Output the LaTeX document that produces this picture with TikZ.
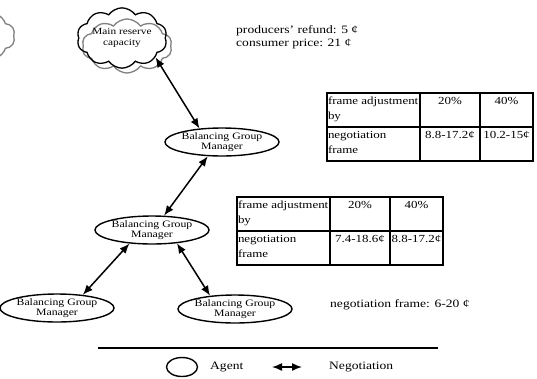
\documentclass[tikz,border=0pt]{standalone}
\usepackage{fontspec}
\setmainfont{Liberation Serif}[FakeStretch=1.2]
\usetikzlibrary{shapes.geometric, shapes.symbols, arrows.meta, positioning}
\definecolor{cloudgrey}{RGB}{128, 128, 128}
\newcommand{\lcell}[2]{\parbox[c][26pt][t]{#1}{\raggedright #2}}
\newcommand{\ccell}[2]{\parbox[c][26pt][t]{#1}{\centering #2}}

\begin{document}
\begin{tikzpicture}[x=1pt, y=-1pt,
    agent/.style={ellipse, draw, line width=1.4pt, minimum width=84pt, minimum height=28pt, inner sep=0pt, align=center, font=\fontsize{9.8}{9.8}\selectfont},
    nego/.style={{Latex[length=10pt,width=8pt]}-{Latex[length=10pt,width=8pt]}, line width=1.5pt},
    reserve/.style={cloud, cloud puffs=10, cloud puff arc=110, aspect=1.7, minimum width=90pt, minimum height=54pt, inner sep=0pt, line width=1.3pt, align=center, font=\fontsize{9.4}{11.5}\selectfont},
    tcell/.style={draw, line width=1.4pt, anchor=north west, outer sep=0pt, inner xsep=1pt, inner ysep=0pt, minimum height=34pt, font=\fontsize{10.8}{15}\selectfont},
    info/.style={anchor=west, inner sep=0pt, align=left, font=\fontsize{11.3}{13}\selectfont}]
    \useasboundingbox (0,0) rectangle (537,378);

    % reserve clouds
    \node[reserve, draw=cloudgrey] (mrcshade) at (127,46) {};
    \node[reserve, draw=cloudgrey] (edgecloud) at (-30,36) {};
    \node[reserve, draw] (mrc) at (122,38) {Main reserve\\capacity};

    % balancing group managers
    \node[agent] (bgmtop) at (222,142) {Balancing Group\\Manager};
    \node[agent] (bgmmid) at (152,230) {Balancing Group\\Manager};
    \node[agent] (bgmleft) at (57,308) {Balancing Group\\Manager};
    \node[agent] (bgmright) at (235,309) {Balancing Group\\Manager};

    % negotiations
    \draw[nego] (mrc.-30) -- (bgmtop.149);
    \draw[nego] (bgmtop.225) -- (bgmmid.50);
    \draw[nego] (bgmmid.211) -- (bgmleft.27);
    \draw[nego] (bgmmid.-28) -- (bgmright.152);

    % prices
    \node[info] (prices) at (236,37) {producers' refund: 5 ¢\\consumer price: 21 ¢};

    % upper table
    \node[tcell, minimum width=93pt] (upfa) at (327,93) {\lcell{91pt}{frame adjustment\\by}};
    \node[tcell, minimum width=60pt, right=0pt of upfa] (upfb) {\ccell{58pt}{20\%}};
    \node[tcell, minimum width=53pt, right=0pt of upfb] (upfc) {\ccell{51pt}{40\%}};
    \node[tcell, minimum width=93pt, below=0pt of upfa] (upna) {\lcell{91pt}{negotiation\\frame}};
    \node[tcell, minimum width=60pt, below=0pt of upfb] (upnb) {\ccell{58pt}{8.8-17.2¢}};
    \node[tcell, minimum width=53pt, below=0pt of upfc] (upnc) {\ccell{51pt}{10.2-15¢}};

    % lower table
    \node[tcell, minimum width=93pt] (lofa) at (237,197) {\lcell{91pt}{frame adjustment\\by}};
    \node[tcell, minimum width=60pt, right=0pt of lofa] (lofb) {\ccell{58pt}{20\%}};
    \node[tcell, minimum width=53pt, right=0pt of lofb] (lofc) {\ccell{51pt}{40\%}};
    \node[tcell, minimum width=93pt, below=0pt of lofa] (lona) {\lcell{91pt}{negotiation\\frame}};
    \node[tcell, minimum width=60pt, below=0pt of lofb] (lonb) {\ccell{58pt}{7.4-18.6¢}};
    \node[tcell, minimum width=53pt, below=0pt of lofc] (lonc) {\ccell{51pt}{8.8-17.2¢}};

    \node[info] (baseframe) at (330,305) {negotiation frame: 6-20 ¢};

    % legend
    \coordinate (rulel) at (98,348);
    \coordinate (ruler) at (438,348);
    \draw[line width=1.2pt] (rulel) -- (ruler);
    \node[ellipse, draw, line width=1.4pt, minimum width=31pt, minimum height=19pt] (legagent) at (182,367) {};
    \node[info] (agentlbl) at (210,367) {Agent};
    \coordinate (lega) at (272,367);
    \coordinate (legb) at (302,367);
    \draw[nego] (lega) -- (legb);
    \node[info] (negolbl) at (329,367) {Negotiation};
\end{tikzpicture}
\end{document}
